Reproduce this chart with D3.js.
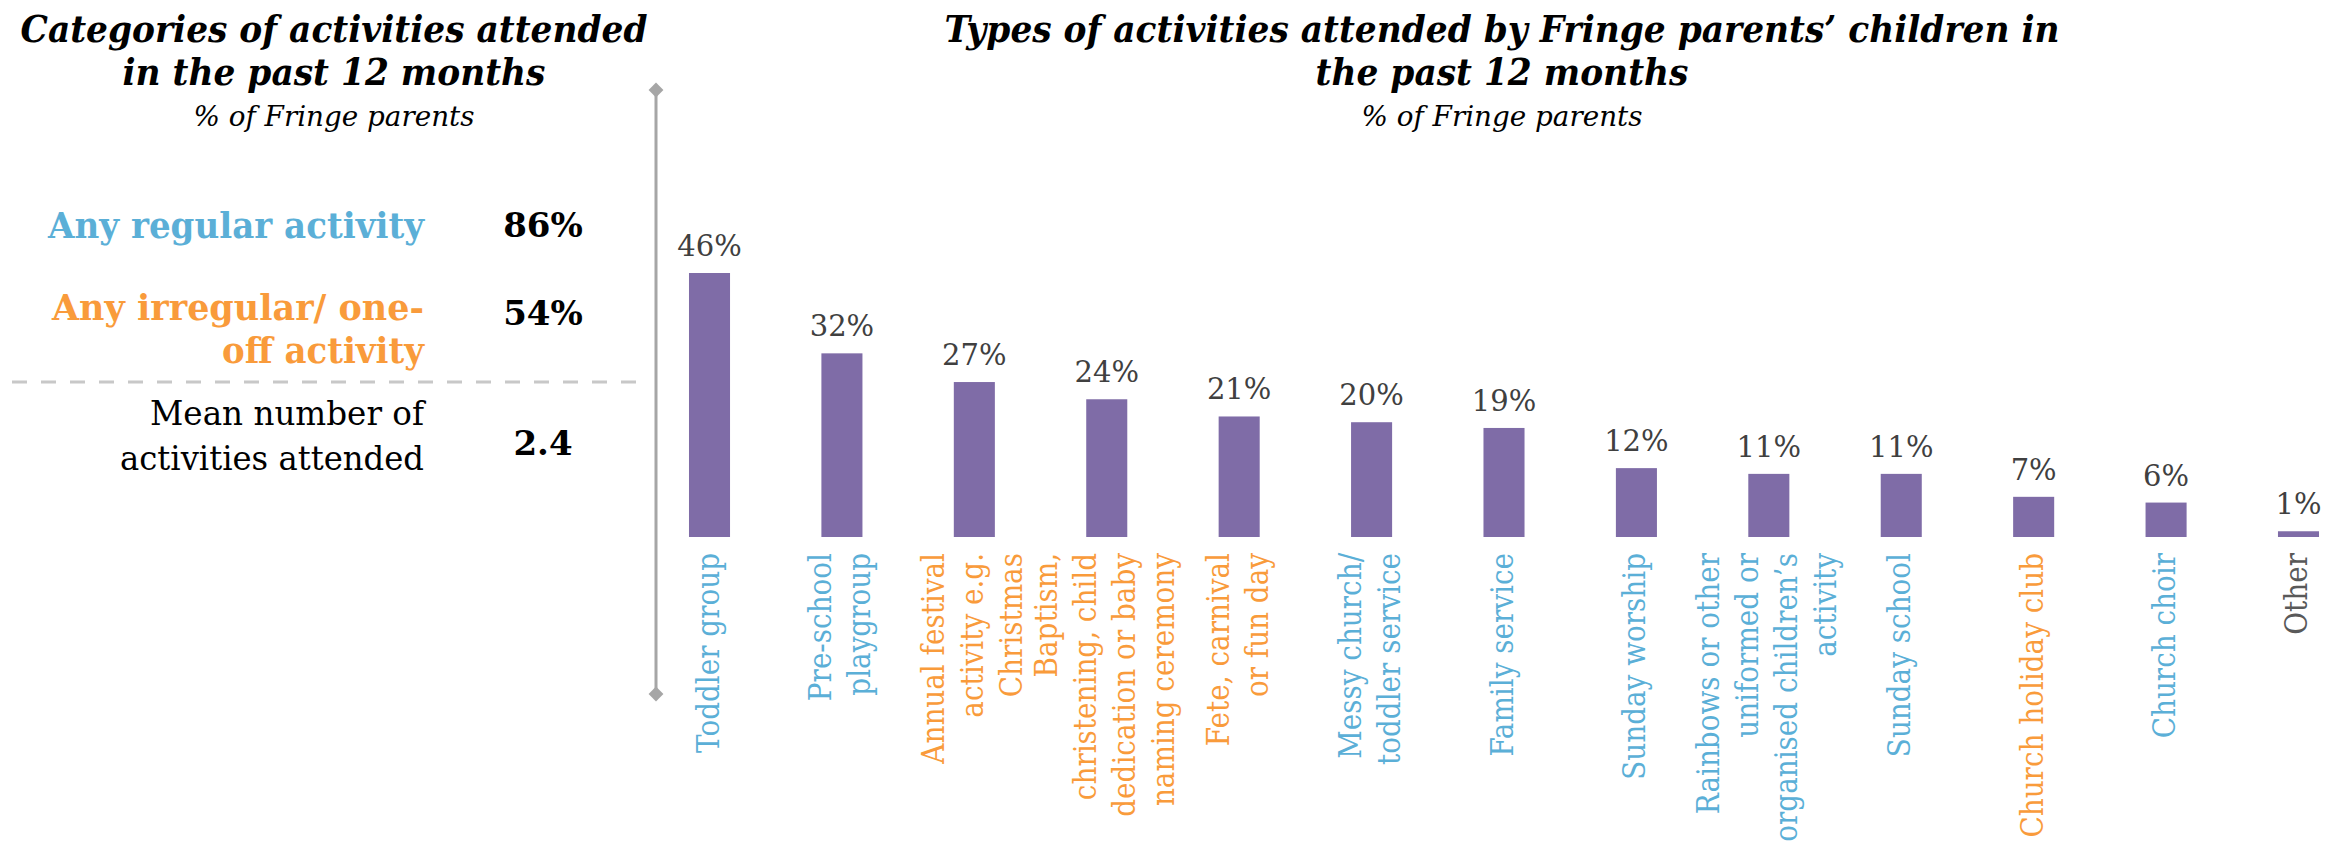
<!DOCTYPE html>
<html>
<head>
<meta charset="utf-8">
<script src="https://cdn.jsdelivr.net/npm/d3@7"></script>
<style>
  body { margin: 0; background: #ffffff; }
  svg { display: block; }
</style>
</head>
<body>
<svg id="chart" width="2343" height="843"></svg>
<script>
// ---- Data ----
const categories = [
  "Toddler group", "Pre-school playgroup", "Annual festival activity e.g. Christmas",
  "Baptism, christening, child dedication or baby naming ceremony",
  "Fete, carnival or fun day", "Messy church/ toddler service", "Family service",
  "Sunday worship", "Rainbows or other uniformed or organised children’s activity",
  "Sunday school", "Church holiday club", "Church choir", "Other"
];
const categoryLines = [
  ["Toddler group"],
  ["Pre-school", "playgroup"],
  ["Annual festival", "activity e.g.", "Christmas"],
  ["Baptism,", "christening, child", "dedication or baby", "naming ceremony"],
  ["Fete, carnival", "or fun day"],
  ["Messy church/", "toddler service"],
  ["Family service"],
  ["Sunday worship"],
  ["Rainbows or other", "uniformed or", "organised children’s", "activity"],
  ["Sunday school"],
  ["Church holiday club"],
  ["Church choir"],
  ["Other"]
];
const values = [46, 32, 27, 24, 21, 20, 19, 12, 11, 11, 7, 6, 1];
const activityKind = [
  "regular", "regular", "irregular", "irregular", "irregular", "regular", "regular",
  "regular", "regular", "regular", "irregular", "regular", "other"
];

const summaryLabels = [
  ["Any regular activity"],
  ["Any irregular/ one-", "off activity"],
  ["Mean number of", "activities attended"]
];
const summaryValues = ["86%", "54%", "2.4"];
const summaryKind = ["regular", "irregular", "mean"];

const leftTitle = ["Categories of activities attended", "in the past 12 months"];
const rightTitle = ["Types of activities attended by Fringe parents’ children in", "the past 12 months"];
const subtitle = "% of Fringe parents";

// ---- Styling ----
const FONT = "'DejaVu Serif', Georgia, serif";
const kindColor = { regular: "#5BAFD7", irregular: "#F99B3B", other: "#595959", mean: "#000000" };
const barColor = "#7F6CA7";

const svg = d3.select("#chart");

// Scales for the bar panel
const x = d3.scaleBand()
  .domain(categories)
  .range([643.3, 2364.7])
  .paddingInner(0.69)
  .paddingOuter(0.345);

const y = d3.scaleLinear()
  .domain([0, 46])
  .range([537, 273]);

// Text condensing helpers
function condense(sel, k) {
  sel.each(function () {
    const w = this.getComputedTextLength();
    d3.select(this).attr("textLength", w * k).attr("lengthAdjust", "spacingAndGlyphs");
  });
}
function fitTo(sel, width) {
  sel.attr("textLength", width).attr("lengthAdjust", "spacingAndGlyphs");
}
function applyStyle(sel, st) {
  Object.entries(st).forEach(([k, v]) => sel.style(k, v));
}
function factorFor(text, st, target) {
  const t = svg.append("text").text(text);
  applyStyle(t, st);
  const w = t.node().getComputedTextLength();
  t.remove();
  return target / w;
}

// ---- Titles ----
const titleStyle = { "font-family": FONT, "font-size": "37px", "font-weight": "bold", "font-style": "italic" };
const subStyle = { "font-family": FONT, "font-size": "27px", "font-style": "italic" };
const kTitle = factorFor(leftTitle[0], titleStyle, 627);
const kSub = factorFor(subtitle, subStyle, 281);

function drawTitle(lines, cx) {
  const g = svg.append("g").attr("class", "title");
  const t = g.selectAll("text.line").data(lines).join("text")
    .attr("class", "line")
    .attr("x", cx)
    .attr("y", (d, i) => 42 + i * 43)
    .attr("text-anchor", "middle")
    .attr("fill", "#000")
    .text(d => d);
  applyStyle(t, titleStyle);
  condense(t, kTitle);
  const s = g.append("text")
    .attr("x", cx).attr("y", 126)
    .attr("text-anchor", "middle")
    .attr("fill", "#000")
    .text(subtitle);
  applyStyle(s, subStyle);
  condense(s, kSub);
}
drawTitle(leftTitle, 334);
drawTitle(rightTitle, 1502);

// ---- Summary panel ----
const boldStyle = { "font-family": FONT, "font-size": "35px", "font-weight": "bold" };
const regStyle = { "font-family": FONT, "font-size": "34px" };

const summaryLineY = [[238], [320, 363], [425, 470]];
const summaryLineW = [[376], [372, 202], [274, 304]];
const summaryValueY = [237, 325, 455];

const summary = svg.append("g").attr("class", "summary");
summaryLabels.forEach((lines, i) => {
  const kind = summaryKind[i];
  const t = summary.selectAll(null).data(lines).join("text")
    .attr("x", 424)
    .attr("y", (d, j) => summaryLineY[i][j])
    .attr("text-anchor", "end")
    .attr("fill", kindColor[kind])
    .text(d => d);
  applyStyle(t, kind === "mean" ? regStyle : boldStyle);
  t.each(function (d, j) { fitTo(d3.select(this), summaryLineW[i][j]); });

  summary.append("text")
    .attr("x", 543)
    .attr("y", summaryValueY[i])
    .attr("text-anchor", "middle")
    .attr("fill", "#000")
    .style("font-family", FONT)
    .style("font-size", "34px")
    .style("font-weight", "bold")
    .text(summaryValues[i]);
});

// Dashed separator under the category rows
summary.append("line")
  .attr("x1", 12).attr("x2", 647)
  .attr("y1", 382).attr("y2", 382)
  .attr("stroke", "#c8c8c8")
  .attr("stroke-width", 3)
  .attr("stroke-dasharray", "15,14");

// ---- Vertical divider with diamond ends ----
const divider = svg.append("g").attr("class", "divider");
divider.append("line")
  .attr("x1", 656).attr("x2", 656)
  .attr("y1", 90).attr("y2", 694)
  .attr("stroke", "#a6a6a6")
  .attr("stroke-width", 3);
divider.selectAll("path").data([90, 694]).join("path")
  .attr("d", d3.symbol(d3.symbolSquare, 110)())
  .attr("transform", d => `translate(656,${d}) rotate(45)`)
  .attr("fill", "#a6a6a6");

// ---- Bars ----
const bars = svg.append("g").attr("class", "bars");
bars.selectAll("rect").data(categories).join("rect")
  .attr("x", d => x(d))
  .attr("y", (d, i) => y(values[i]))
  .attr("width", x.bandwidth())
  .attr("height", (d, i) => y(0) - y(values[i]))
  .attr("fill", barColor);

bars.selectAll("text.value").data(categories).join("text")
  .attr("class", "value")
  .attr("x", d => x(d) + x.bandwidth() / 2)
  .attr("y", (d, i) => y(values[i]) - 17)
  .attr("text-anchor", "middle")
  .attr("fill", "#404040")
  .style("font-family", FONT)
  .style("font-size", "29px")
  .text((d, i) => values[i] + "%");

// ---- Rotated category labels ----
const lineGap = 39;
const labelStyle = { "font-family": FONT, "font-size": "32px" };
const kLabel = factorFor("Toddler group", labelStyle, 200);
const labels = svg.append("g").attr("class", "category-labels");
categories.forEach((c, i) => {
  const lines = categoryLines[i];
  const n = lines.length;
  const cx = x(c) + x.bandwidth() / 2;
  const g = labels.append("g")
    .attr("transform", `translate(${cx},553) rotate(-90)`);
  const t = g.selectAll("text").data(lines).join("text")
    .attr("x", 0)
    .attr("y", (d, j) => (j - (n - 1) / 2) * lineGap + 9)
    .attr("text-anchor", "end")
    .attr("fill", kindColor[activityKind[i]])
    .text(d => d);
  applyStyle(t, labelStyle);
  condense(t, kLabel);
});
</script>
</body>
</html>
